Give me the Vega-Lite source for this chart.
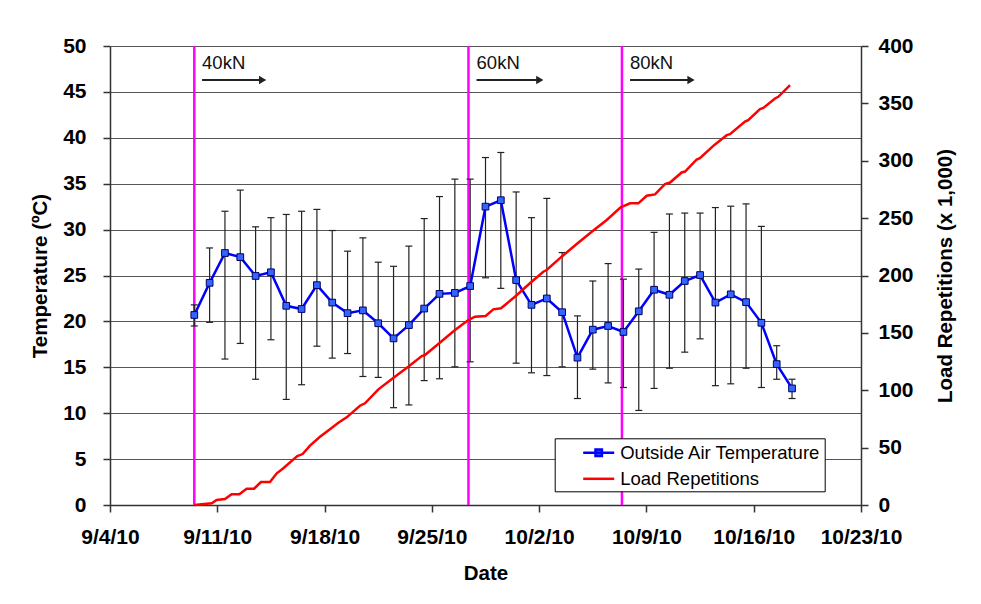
{
  "$schema": "https://vega.github.io/schema/vega-lite/v6.json",
  "width": 751,
  "height": 459,
  "autosize": {"type": "none"},
  "padding": {"left": 110, "top": 46, "right": 120, "bottom": 99},
  "background": "white",
  "datasets": {
    "temp": [
      {"date": "2010-09-09T12:00", "temp": 20.7, "low": 19.5, "high": 21.8, "series": "Outside Air Temperature"},
      {"date": "2010-09-10T12:00", "temp": 24.2, "low": 19.9, "high": 28.0, "series": "Outside Air Temperature"},
      {"date": "2010-09-11T12:00", "temp": 27.45, "low": 15.9, "high": 32.0, "series": "Outside Air Temperature"},
      {"date": "2010-09-12T12:00", "temp": 27.0, "low": 17.6, "high": 34.3, "series": "Outside Air Temperature"},
      {"date": "2010-09-13T12:00", "temp": 24.95, "low": 13.7, "high": 30.3, "series": "Outside Air Temperature"},
      {"date": "2010-09-14T12:00", "temp": 25.35, "low": 18.0, "high": 31.3, "series": "Outside Air Temperature"},
      {"date": "2010-09-15T12:00", "temp": 21.7, "low": 11.5, "high": 31.65, "series": "Outside Air Temperature"},
      {"date": "2010-09-16T12:00", "temp": 21.35, "low": 13.1, "high": 32.0, "series": "Outside Air Temperature"},
      {"date": "2010-09-17T12:00", "temp": 23.95, "low": 17.3, "high": 32.2, "series": "Outside Air Temperature"},
      {"date": "2010-09-18T12:00", "temp": 22.05, "low": 16.0, "high": 29.9, "series": "Outside Air Temperature"},
      {"date": "2010-09-19T12:00", "temp": 20.9, "low": 16.5, "high": 27.65, "series": "Outside Air Temperature"},
      {"date": "2010-09-20T12:00", "temp": 21.2, "low": 14.0, "high": 29.1, "series": "Outside Air Temperature"},
      {"date": "2010-09-21T12:00", "temp": 19.8, "low": 13.9, "high": 26.45, "series": "Outside Air Temperature"},
      {"date": "2010-09-22T12:00", "temp": 18.15, "low": 10.6, "high": 26.0, "series": "Outside Air Temperature"},
      {"date": "2010-09-23T12:00", "temp": 19.6, "low": 10.9, "high": 28.2, "series": "Outside Air Temperature"},
      {"date": "2010-09-24T12:00", "temp": 21.4, "low": 13.55, "high": 31.2, "series": "Outside Air Temperature"},
      {"date": "2010-09-25T12:00", "temp": 23.0, "low": 13.75, "high": 33.6, "series": "Outside Air Temperature"},
      {"date": "2010-09-26T12:00", "temp": 23.1, "low": 15.05, "high": 35.5, "series": "Outside Air Temperature"},
      {"date": "2010-09-27T12:00", "temp": 23.85, "low": 15.6, "high": 35.5, "series": "Outside Air Temperature"},
      {"date": "2010-09-28T12:00", "temp": 32.5, "low": 24.75, "high": 37.85, "series": "Outside Air Temperature"},
      {"date": "2010-09-29T12:00", "temp": 33.2, "low": 23.6, "high": 38.4, "series": "Outside Air Temperature"},
      {"date": "2010-09-30T12:00", "temp": 24.5, "low": 15.45, "high": 34.1, "series": "Outside Air Temperature"},
      {"date": "2010-10-01T12:00", "temp": 21.8, "low": 14.4, "high": 31.3, "series": "Outside Air Temperature"},
      {"date": "2010-10-02T12:00", "temp": 22.5, "low": 14.1, "high": 33.4, "series": "Outside Air Temperature"},
      {"date": "2010-10-03T12:00", "temp": 21.0, "low": 15.05, "high": 27.5, "series": "Outside Air Temperature"},
      {"date": "2010-10-04T12:00", "temp": 16.05, "low": 11.6, "high": 20.6, "series": "Outside Air Temperature"},
      {"date": "2010-10-05T12:00", "temp": 19.1, "low": 14.8, "high": 24.4, "series": "Outside Air Temperature"},
      {"date": "2010-10-06T12:00", "temp": 19.5, "low": 13.3, "high": 26.3, "series": "Outside Air Temperature"},
      {"date": "2010-10-07T12:00", "temp": 18.85, "low": 12.8, "high": 24.6, "series": "Outside Air Temperature"},
      {"date": "2010-10-08T12:00", "temp": 21.1, "low": 10.3, "high": 25.7, "series": "Outside Air Temperature"},
      {"date": "2010-10-09T12:00", "temp": 23.45, "low": 12.7, "high": 29.7, "series": "Outside Air Temperature"},
      {"date": "2010-10-10T12:00", "temp": 22.9, "low": 14.9, "high": 31.7, "series": "Outside Air Temperature"},
      {"date": "2010-10-11T12:00", "temp": 24.4, "low": 16.65, "high": 31.8, "series": "Outside Air Temperature"},
      {"date": "2010-10-12T12:00", "temp": 25.05, "low": 18.1, "high": 31.8, "series": "Outside Air Temperature"},
      {"date": "2010-10-13T12:00", "temp": 22.05, "low": 13.0, "high": 32.4, "series": "Outside Air Temperature"},
      {"date": "2010-10-14T12:00", "temp": 22.95, "low": 13.2, "high": 32.55, "series": "Outside Air Temperature"},
      {"date": "2010-10-15T12:00", "temp": 22.1, "low": 14.9, "high": 32.8, "series": "Outside Air Temperature"},
      {"date": "2010-10-16T12:00", "temp": 19.85, "low": 12.8, "high": 30.35, "series": "Outside Air Temperature"},
      {"date": "2010-10-17T12:00", "temp": 15.35, "low": 13.7, "high": 17.35, "series": "Outside Air Temperature"},
      {"date": "2010-10-18T12:00", "temp": 12.7, "low": 11.6, "high": 13.7, "series": "Outside Air Temperature"}
    ],
    "loads": [
      {"date": "2010-09-09T12:00", "reps": 0, "series": "Load Repetitions"},
      {"date": "2010-09-10T15:20", "reps": 1.5, "series": "Load Repetitions"},
      {"date": "2010-09-10T23:00", "reps": 4.4, "series": "Load Repetitions"},
      {"date": "2010-09-11T12:00", "reps": 5.2, "series": "Load Repetitions"},
      {"date": "2010-09-11T22:30", "reps": 9.3, "series": "Load Repetitions"},
      {"date": "2010-09-12T10:30", "reps": 9.3, "series": "Load Repetitions"},
      {"date": "2010-09-12T22:00", "reps": 14.2, "series": "Load Repetitions"},
      {"date": "2010-09-13T09:40", "reps": 14.2, "series": "Load Repetitions"},
      {"date": "2010-09-13T20:20", "reps": 20, "series": "Load Repetitions"},
      {"date": "2010-09-14T10:30", "reps": 20, "series": "Load Repetitions"},
      {"date": "2010-09-14T21:10", "reps": 27.6, "series": "Load Repetitions"},
      {"date": "2010-09-15T07:25", "reps": 32, "series": "Load Repetitions"},
      {"date": "2010-09-16T05:15", "reps": 42.7, "series": "Load Repetitions"},
      {"date": "2010-09-16T13:40", "reps": 44.4, "series": "Load Repetitions"},
      {"date": "2010-09-17T01:10", "reps": 51.7, "series": "Load Repetitions"},
      {"date": "2010-09-17T16:50", "reps": 59.5, "series": "Load Repetitions"},
      {"date": "2010-09-18T08:25", "reps": 66, "series": "Load Repetitions"},
      {"date": "2010-09-18T21:35", "reps": 71.7, "series": "Load Repetitions"},
      {"date": "2010-09-19T10:35", "reps": 76.4, "series": "Load Repetitions"},
      {"date": "2010-09-20T07:25", "reps": 86.5, "series": "Load Repetitions"},
      {"date": "2010-09-20T15:20", "reps": 88.6, "series": "Load Repetitions"},
      {"date": "2010-09-21T12:15", "reps": 100.8, "series": "Load Repetitions"},
      {"date": "2010-09-22T11:30", "reps": 110.7, "series": "Load Repetitions"},
      {"date": "2010-09-23T11:00", "reps": 120.5, "series": "Load Repetitions"},
      {"date": "2010-09-24T08:10", "reps": 129.8, "series": "Load Repetitions"},
      {"date": "2010-09-24T13:10", "reps": 130.7, "series": "Load Repetitions"},
      {"date": "2010-09-25T11:30", "reps": 140.9, "series": "Load Repetitions"},
      {"date": "2010-09-26T12:15", "reps": 152.5, "series": "Load Repetitions"},
      {"date": "2010-09-27T09:10", "reps": 161.2, "series": "Load Repetitions"},
      {"date": "2010-09-27T19:25", "reps": 164.1, "series": "Load Repetitions"},
      {"date": "2010-09-28T12:15", "reps": 164.7, "series": "Load Repetitions"},
      {"date": "2010-09-29T00:15", "reps": 170.5, "series": "Load Repetitions"},
      {"date": "2010-09-29T12:15", "reps": 171.4, "series": "Load Repetitions"},
      {"date": "2010-09-30T10:05", "reps": 181.5, "series": "Load Repetitions"},
      {"date": "2010-10-01T09:35", "reps": 193.2, "series": "Load Repetitions"},
      {"date": "2010-10-02T06:30", "reps": 203.3, "series": "Load Repetitions"},
      {"date": "2010-10-02T11:45", "reps": 204.8, "series": "Load Repetitions"},
      {"date": "2010-10-03T11:15", "reps": 216.4, "series": "Load Repetitions"},
      {"date": "2010-10-04T10:50", "reps": 227.5, "series": "Load Repetitions"},
      {"date": "2010-10-05T10:20", "reps": 238.2, "series": "Load Repetitions"},
      {"date": "2010-10-06T09:50", "reps": 248.4, "series": "Load Repetitions"},
      {"date": "2010-10-07T07:40", "reps": 259.4, "series": "Load Repetitions"},
      {"date": "2010-10-07T22:20", "reps": 262.9, "series": "Load Repetitions"},
      {"date": "2010-10-08T11:15", "reps": 262.9, "series": "Load Repetitions"},
      {"date": "2010-10-09T00:30", "reps": 269.5, "series": "Load Repetitions"},
      {"date": "2010-10-09T13:25", "reps": 270.7, "series": "Load Repetitions"},
      {"date": "2010-10-10T05:00", "reps": 279.6, "series": "Load Repetitions"},
      {"date": "2010-10-10T13:00", "reps": 281, "series": "Load Repetitions"},
      {"date": "2010-10-11T07:10", "reps": 289.8, "series": "Load Repetitions"},
      {"date": "2010-10-11T12:30", "reps": 290.6, "series": "Load Repetitions"},
      {"date": "2010-10-12T06:40", "reps": 301.1, "series": "Load Repetitions"},
      {"date": "2010-10-12T11:45", "reps": 302.3, "series": "Load Repetitions"},
      {"date": "2010-10-13T08:40", "reps": 313, "series": "Load Repetitions"},
      {"date": "2010-10-14T05:45", "reps": 322.3, "series": "Load Repetitions"},
      {"date": "2010-10-14T10:50", "reps": 323.2, "series": "Load Repetitions"},
      {"date": "2010-10-15T10:20", "reps": 334.2, "series": "Load Repetitions"},
      {"date": "2010-10-15T15:20", "reps": 335.4, "series": "Load Repetitions"},
      {"date": "2010-10-16T09:50", "reps": 345, "series": "Load Repetitions"},
      {"date": "2010-10-16T15:05", "reps": 346, "series": "Load Repetitions"},
      {"date": "2010-10-17T09:20", "reps": 354.3, "series": "Load Repetitions"},
      {"date": "2010-10-17T14:25", "reps": 355.7, "series": "Load Repetitions"},
      {"date": "2010-10-18T08:55", "reps": 365.9, "series": "Load Repetitions"}
    ],
    "phases": [
      {"date": "2010-09-09T12:00"},
      {"date": "2010-09-27T09:20"},
      {"date": "2010-10-07T09:40"}
    ],
    "notes": [
      {"date": "2010-09-10T00:10", "y": 47.5, "label": "40kN", "end": "2010-09-13T23:00", "ay": 46.3},
      {"date": "2010-09-27T22:00", "y": 47.5, "label": "60kN", "end": "2010-10-02T01:00", "ay": 46.3},
      {"date": "2010-10-07T22:20", "y": 47.5, "label": "80kN", "end": "2010-10-11T21:50", "ay": 46.3}
    ]
  },
  "encoding": {
    "x": {
      "field": "date",
      "type": "temporal",
      "title": "Date",
      "scale": {
        "domain": [{"year": 2010, "month": 9, "date": 4}, {"year": 2010, "month": 10, "date": 23}],
        "nice": false
      },
      "axis": {
        "values": [
          {"year": 2010, "month": 9, "date": 4},
          {"year": 2010, "month": 9, "date": 11},
          {"year": 2010, "month": 9, "date": 18},
          {"year": 2010, "month": 9, "date": 25},
          {"year": 2010, "month": 10, "date": 2},
          {"year": 2010, "month": 10, "date": 9},
          {"year": 2010, "month": 10, "date": 16},
          {"year": 2010, "month": 10, "date": 23}
        ],
        "format": "%-m/%-d/%y",
        "grid": false,
        "labelFlush": false,
        "labelOverlap": false,
        "labelPadding": 14,
        "titleY": 74.5,
        "titleBaseline": "alphabetic"
      }
    }
  },
  "layer": [
    {
      "layer": [
        {
          "data": {"name": "phases"},
          "mark": {"type": "rule", "color": "#FF00FF", "strokeWidth": 2.5},
          "encoding": {}
        },
        {
          "data": {"name": "temp"},
          "mark": {"type": "rule", "color": "#222222", "strokeWidth": 1.2},
          "encoding": {
            "y": {"field": "low", "type": "quantitative", "title": "Temperature (ºC)", "scale": {"domain": [0, 50], "nice": false}},
            "y2": {"field": "high"}
          }
        },
        {
          "data": {"name": "temp"},
          "mark": {"type": "tick", "orient": "horizontal", "color": "#222222", "size": 7, "thickness": 1.2, "opacity": 1},
          "encoding": {
            "y": {"field": "low", "type": "quantitative", "title": "Temperature (ºC)"}
          }
        },
        {
          "data": {"name": "temp"},
          "mark": {"type": "tick", "orient": "horizontal", "color": "#222222", "size": 7, "thickness": 1.2, "opacity": 1},
          "encoding": {
            "y": {"field": "high", "type": "quantitative", "title": "Temperature (ºC)"}
          }
        },
        {
          "data": {"name": "temp"},
          "mark": {"type": "line", "strokeWidth": 2.5},
          "encoding": {
            "y": {"field": "temp", "type": "quantitative", "title": "Temperature (ºC)"},
            "color": {
              "field": "series",
              "type": "nominal",
              "scale": {"domain": ["Outside Air Temperature", "Load Repetitions"], "range": ["#0000FF", "#FF0000"]},
              "legend": {
                "title": null,
                "orient": "none",
                "legendX": 444.7,
                "legendY": 392.3,
                "direction": "vertical",
                "strokeColor": "black",
                "fillColor": "white",
                "padding": 3,
                "labelFont": "Liberation Sans",
                "labelFontSize": 18.5,
                "labelColor": "black",
                "labelLimit": 0,
                "symbolSize": 400,
                "symbolStrokeWidth": 2.5,
                "symbolOffset": 29.5,
                "labelOffset": 10,
                "rowPadding": 5,
                "symbolType": "M-1.55,0H1.55",
                "encode": {
                  "symbols": {
                    "update": {
                      "shape": [
                        {"test": "datum.value === 'Outside Air Temperature'", "value": "M-1.55,0H1.55M-0.32,-0.32H0.32V0.32H-0.32Z"},
                        {"value": "M-1.55,0H1.55"}
                      ],
                      "fill": [
                        {"test": "datum.value === 'Outside Air Temperature'", "value": "#3366FF"},
                        {"value": "transparent"}
                      ],
                      "opacity": {"value": 1}
                    }
                  }
                }
              }
            }
          }
        },
        {
          "data": {"name": "temp"},
          "mark": {"type": "point", "shape": "square", "filled": true, "size": 45, "fill": "#3366FF", "stroke": "#000066", "strokeWidth": 1, "opacity": 1},
          "encoding": {
            "y": {"field": "temp", "type": "quantitative", "title": "Temperature (ºC)"}
          }
        },
        {
          "data": {"name": "notes"},
          "mark": {"type": "text", "align": "left", "baseline": "alphabetic", "fontSize": 18.5, "font": "Liberation Sans", "color": "#111111"},
          "encoding": {
            "y": {"field": "y", "type": "quantitative", "title": "Temperature (ºC)"},
            "text": {"field": "label"}
          }
        },
        {
          "data": {"name": "notes"},
          "mark": {"type": "rule", "color": "#222222", "strokeWidth": 2},
          "encoding": {
            "x2": {"field": "end"},
            "y": {"field": "ay", "type": "quantitative", "title": "Temperature (ºC)"}
          }
        },
        {
          "data": {"name": "notes"},
          "mark": {"type": "point", "shape": "triangle-right", "filled": true, "size": 70, "color": "#222222", "opacity": 1},
          "encoding": {
            "x": {"field": "end", "type": "temporal"},
            "y": {"field": "ay", "type": "quantitative", "title": "Temperature (ºC)"}
          }
        }
      ]
    },
    {
      "data": {"name": "loads"},
      "mark": {"type": "line", "strokeWidth": 2.5},
      "encoding": {
        "y": {
          "field": "reps",
          "type": "quantitative",
          "title": "Load Repetitions (x 1,000)",
          "scale": {"domain": [0, 400], "nice": false},
          "axis": {"orient": "right"}
        },
        "color": {
          "field": "series",
          "type": "nominal",
          "scale": {"domain": ["Outside Air Temperature", "Load Repetitions"], "range": ["#0000FF", "#FF0000"]},
          "legend": {
            "title": null,
            "orient": "none",
            "legendX": 444.7,
            "legendY": 392.3,
            "direction": "vertical",
            "strokeColor": "black",
            "fillColor": "white",
            "padding": 3,
            "labelFont": "Liberation Sans",
            "labelFontSize": 18.5,
            "labelColor": "black",
            "labelLimit": 0,
            "symbolSize": 400,
            "symbolStrokeWidth": 2.5,
            "symbolOffset": 29.5,
            "labelOffset": 10,
            "rowPadding": 5,
            "symbolType": "M-1.55,0H1.55",
            "encode": {
              "symbols": {
                "update": {
                  "shape": [
                    {"test": "datum.value === 'Outside Air Temperature'", "value": "M-1.55,0H1.55M-0.32,-0.32H0.32V0.32H-0.32Z"},
                    {"value": "M-1.55,0H1.55"}
                  ],
                  "fill": [
                    {"test": "datum.value === 'Outside Air Temperature'", "value": "#3366FF"},
                    {"value": "transparent"}
                  ],
                  "opacity": {"value": 1}
                }
              }
            }
          }
        }
      }
    }
  ],
  "resolve": {"scale": {"y": "independent"}},
  "config": {
    "font": "Liberation Sans",
    "view": {"stroke": null},
    "axis": {
      "domainColor": "#333333",
      "domainWidth": 1.5,
      "tickColor": "#333333",
      "tickWidth": 1.5,
      "tickSize": 7,
      "labelFont": "Liberation Sans",
      "labelFontSize": 21,
      "labelFontWeight": "bold",
      "labelColor": "black",
      "titleFont": "Liberation Sans",
      "titleFontSize": 20.5,
      "titleFontWeight": "bold",
      "titleColor": "black",
      "gridColor": "#555555",
      "gridWidth": 1,
      "gridOpacity": 1
    },
    "axisLeft": {
      "grid": true,
      "tickCount": 10,
      "labelPadding": 17,
      "titleX": -70,
      "titleY": 229.5,
      "titleAngle": 270,
      "titleBaseline": "middle",
      "titleAlign": "center"
    },
    "axisRight": {
      "grid": false,
      "tickCount": 8,
      "labelPadding": 10,
      "titleX": 84,
      "titleY": 229.5,
      "titleAngle": 270,
      "titleBaseline": "middle",
      "titleAlign": "center"
    }
  }
}
